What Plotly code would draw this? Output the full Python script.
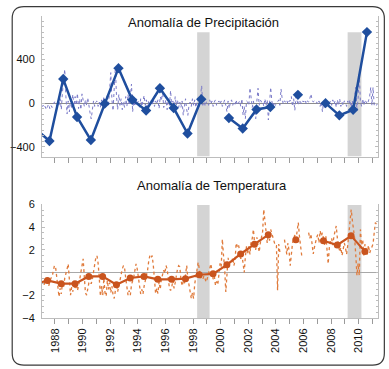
import plotly.graph_objects as go

# ---------------- data ----------------
annual_years = list(range(1986, 2011))
precip_annual = [-237, -348, 221, -127, -339, -5, 321, 30, -67, 136, -45, -279, 36, None,
                 -136, -233, -58, -36, None, 76, None, 0, -112, -61, 652]
temp_annual = [-1.08, -0.70, -0.99, -0.99, -0.35, -0.35, -1.08, -0.49, -0.35, -0.61, -0.61,
               -0.55, -0.20, -0.12, 0.67, 1.63, 2.5, 3.32, None, 2.88, None, 2.8, 2.42, 3.23, 1.86]

monthly_start_year = 1987
precip_monthly = [
    -20, -30, -10, -40, -60, -30, -10, -50, -20, -40, -20, 10,
    10, -30, 20, -20, 40, -60, 100, 180, 310, 60, -100, 20,
    -80, 30, -40, 80, -30, 60, -20, 90, -50, 40, -60, 85,
    10, -30, 30, -20, 50, -40, -90, -145, -60, 20, -30, 10,
    20, -30, 10, -40, 30, -20, 60, -40, 20, 80, -30, 120,
    280, 30, -70, 140, 327, 60, -60, 80, -20, 40, -60, 10,
    -40, 60, -30, 80, -20, 60, 175, -80, 20, -30, 40, -10,
    20, -50, 40, -30, 10, 70, -20, 30, -40, 20, -10, 30,
    -20, 40, -30, 20, -10, 30, -50, 60, 20, 115, -40, 10,
    30, -60, 40, -20, 115, -30, 20, -50, 60, -20, 30, -40,
    10, -40, 20, -112, -30, 40, -60, -112, -20, 10, -30, 40,
    -20, 30, -40, 20, 40, -30, 60, 160, -20, 40, -30, 10,
    10, -20, 30, -10, 20, -30, 10, 30, -20, 10, 20, -10,
    20, -30, 10, 30, -20, -80, 20, -50, 10, 30, -20, 10,
    -10, 30, -20, 10, 20, -30, 40, -110, -30, -143, 20, 10,
    -20, 140, 20, -40, 20, -60, -143, 20, 136, -20, 30, 10,
    20, -30, 40, -20, 30, -155, -40, 145, 20, -30, 10, -20,
    -10, 20, 30, -20, 130, 40, -10, 20, 10, 30, -10, 20,
    20, 60, -30, 40, -67, 60, 20, -20, 30, 10, -10, 20,
    10, 30, -10, 20, 10, 40, 85, 30, 10, 20, 0, 10,
    -10, 20, -30, 10, -80, 20, -40, 10, 30, -20, 10, 20,
    -20, 30, -10, 20, -40, 30, -20, 40, -30, 10, -20, 20,
    10, -30, 20, -10, 30, -40, 20, -60, 60, 145, -67, 40,
    266, 20, -30, 40, -20, 30, 10, -10, 20, 60, 145, -20,
    145, -20, -10, -20, 0,
]
temp_monthly = [
    -1.0, -0.8, -1.1, -0.7, -0.9, -0.6, -1.2, -0.8, -0.5, -0.4, 0.2, 0.6,
    0.5, -0.3, -1.2, -2.15, -1.4, -1.9, -0.9, -1.3, -0.5, -0.2, 0.3, 0.76,
    -0.8, -2.0, -1.3, -1.7, -1.2, -1.5, -1.0, -1.6, -1.2, -0.6, 0.2, 0.9,
    1.2, -0.4, -1.8, -2.0, -1.5, -0.9, -0.8, -1.0, -0.6, 0.0, 0.8, 1.3,
    1.48, 0.8, -0.5, -2.1, -1.2, -2.0, -0.5, -1.8, -2.1, -0.7, -1.5, -0.9,
    -1.8, -1.2, -2.0, -2.3, -1.6, -1.0, -1.7, -1.2, -0.5, 0.0, 0.3, 0.6,
    0.4, -0.5, -1.4, -2.0, -1.6, -2.0, -1.1, -0.8, -0.4, 0.2, 0.76, 0.3,
    -0.5, -1.2, -1.9, -1.5, -1.9, -1.2, -0.8, -0.3, 0.2, 1.0, 1.5, 1.3,
    1.48, 0.6, -1.0, -1.86, -1.4, -1.86, -0.8, -1.5, -0.6, -0.3, 0.2, -0.1,
    0.61, 0.3, -0.8, -1.4, -1.6, -1.3, -0.7, -1.4, -0.9, -0.2, 0.3, 0.6,
    0.5, -0.6, -1.2, -0.8, -1.0, -0.2, 0.61, -0.5, -1.2, -1.6, -2.3, -1.8,
    -2.3, -1.0, -0.3, 0.4, 0.9, 0.3, -0.5, -0.4, -0.6, -0.3, -0.7, -0.85,
    -0.5, 0.0, 0.3, 0.76, 0.1, -0.6, -0.3, -1.13, -0.8, -1.1, -0.2, 0.8,
    0.5, 2.94, 1.5, 0.3, -1.72, 0.2, 1.3, 0.6, 1.0, 0.8, 1.3, 0.6,
    1.0, 2.6, 2.3, 2.5, 1.8, 1.2, 1.6, 0.8, 0.0, 1.4, 2.3, 1.6,
    2.3, 1.6, 2.8, 3.0, 3.8, 2.6, 2.0, 3.1, 2.4, 1.8, 2.6, 3.0,
    3.6, 5.56, 4.6, 3.2, 2.6, 3.4, 2.8, 3.8, 3.4, 3.0, 2.6, 2.36,
    2.36, -1.57, 2.5, 1.8, None, None, None, 2.9, 2.2, 1.6, 2.6, 1.9,
    0.6, 1.8, 2.6, 3.0, 3.3, 2.9, 3.6, 4.4, 3.2, 2.2, 1.48, None,
    None, None, None, None, 3.52, 3.0, 3.4, 2.6, 1.63, 2.2, 2.8, 3.1,
    3.35, 2.6, 3.67, 3.2, 3.5, 2.8, 2.4, 3.2, 2.0, 0.76, 2.2, 2.8,
    3.0, 2.4, 3.2, 3.6, 4.1, 3.0, 2.4, 1.8, 2.2, 1.5, 2.0, 2.6,
    2.2, 1.6, 2.4, 3.4, 4.5, 5.56, 4.6, 3.8, 3.0, 1.5, -0.26, 0.8,
    -0.26, 3.8, 2.4, 2.9, 1.5, 2.5, 2.0, 1.6, 2.4, 1.7, 2.0, 2.2,
    2.5, 3.5, 4.4, 4.25, 4.4,
]
shade_periods = [(1998.3, 1999.2), (2009.2, 2010.2)]
tick_years = list(range(1988, 2012))
tick_labels = [str(y) if y % 2 == 0 else "" for y in tick_years]
title_precip = "Anomalía de Precipitación"
title_temp = "Anomalía de Temperatura"

# ---------------- derived x positions ----------------
precip_x = [y + 0.6 for y in annual_years]
temp_x = [y + 0.45 for y in annual_years]
pm_x = [monthly_start_year + (i + 0.5) / 12 for i in range(len(precip_monthly))]
tm_x = [monthly_start_year + (i + 0.5) / 12 for i in range(len(temp_monthly))]

FONT = "Liberation Sans, Arial, Helvetica, sans-serif"
BLUE = "#1F4E9E"
BLUE_LIGHT = "#7A7AC8"
ORANGE = "#C9541E"
ORANGE_LIGHT = "#E07B3C"
AXIS = "#BDBDBD"

fig = go.Figure()

fig.add_trace(go.Scatter(x=pm_x, y=precip_monthly, mode="lines", xaxis="x2", yaxis="y2",
                         line=dict(color=BLUE_LIGHT, width=1, dash="dot"), hoverinfo="skip"))
fig.add_trace(go.Scatter(x=precip_x, y=precip_annual, mode="lines+markers", xaxis="x2", yaxis="y2",
                         line=dict(color=BLUE, width=2.5),
                         marker=dict(symbol="diamond", size=8, color=BLUE)))
fig.add_trace(go.Scatter(x=tm_x, y=temp_monthly, mode="lines", xaxis="x", yaxis="y",
                         line=dict(color=ORANGE_LIGHT, width=1.3, dash="dot"), hoverinfo="skip"))
fig.add_trace(go.Scatter(x=temp_x, y=temp_annual, mode="lines+markers", xaxis="x", yaxis="y",
                         line=dict(color=ORANGE, width=2.2),
                         marker=dict(symbol="circle", size=7, color=ORANGE)))

xr = [1987.06, 2011.40]
shapes = []
for a, b in shade_periods:
    shapes.append(dict(type="rect", xref="x2", yref="y2", x0=a, x1=b, y0=-491, y1=650,
                       fillcolor="#D4D4D4", line=dict(width=0), layer="below"))
    shapes.append(dict(type="rect", xref="x", yref="y", x0=a, x1=b, y0=-4.02, y1=5.95,
                       fillcolor="#D4D4D4", line=dict(width=0), layer="below"))

def px(xp):
    return (xp - 35) / 344
def py(yp):
    return (318 - yp) / 305
L, R, T, B = px(4.5), px(385.5), py(3.5), py(365.5)
rx, ry = 12 / 344, 12 / 305
path = (f"M {L+rx},{T} L {R-rx},{T} Q {R},{T} {R},{T-ry} L {R},{B+ry} Q {R},{B} {R-rx},{B} "
        f"L {L+rx},{B} Q {L},{B} {L},{B+ry} L {L},{T-ry} Q {L},{T} {L+rx},{T} Z")
shapes.append(dict(type="path", xref="paper", yref="paper", path=path,
                   line=dict(color="#3A3A3A", width=1.2), fillcolor="rgba(0,0,0,0)"))

xcommon = dict(range=xr, showgrid=False, zeroline=False, showline=True, linecolor=AXIS,
               ticks="outside", ticklen=5, tickcolor="#9A9A9A", tickvals=tick_years)
ycommon = dict(showgrid=False, showline=True, linecolor=AXIS, mirror="allticks",
               ticks="inside", ticklen=3, tickcolor=AXIS, ticklabelstandoff=4,
               tickfont=dict(family=FONT, size=11, color="#111"))

fig.update_layout(
    width=389, height=369,
    margin=dict(l=35, r=10, t=13, b=51),
    paper_bgcolor="white", plot_bgcolor="white",
    showlegend=False,
    font=dict(family=FONT, size=11, color="#111"),
    xaxis=dict(**xcommon, domain=[0, 1], anchor="y", ticktext=tick_labels, tickangle=-90,
               tickfont=dict(family=FONT, size=11, color="#111")),
    yaxis=dict(**ycommon, domain=[0, py(203)], range=[-4.02, 6.03], anchor="x",
               tickvals=[-4, -2, 2, 4, 6], zeroline=True, zerolinecolor="#A8A8A8", zerolinewidth=1,
               minor=dict(ticks="inside", ticklen=2, dtick=0.5, tick0=0, tickcolor=AXIS)),
    xaxis2=dict(**xcommon, domain=[0, 1], anchor="y2", showticklabels=False),
    yaxis2=dict(**ycommon, domain=[py(155), 1], range=[-491, 800], anchor="x2",
                tickvals=[-400, 0, 400], zeroline=True, zerolinecolor="#8C8C8C", zerolinewidth=1,
                minor=dict(ticks="inside", ticklen=2, dtick=50, tick0=0, tickcolor=AXIS)),
    shapes=shapes,
    annotations=[
        dict(text=title_precip, xref="paper", yref="paper", x=px(200), y=py(20),
             showarrow=False, xanchor="center", yanchor="middle",
             font=dict(family=FONT, size=13, color="#111")),
        dict(text=title_temp, xref="paper", yref="paper", x=px(209.5), y=py(184),
             showarrow=False, xanchor="center", yanchor="middle",
             font=dict(family=FONT, size=13, color="#111")),
    ],
)

fig.write_html("out.html", config={"displayModeBar": False},
               post_script="document.body.style.margin='0';document.body.style.overflow='hidden';")
